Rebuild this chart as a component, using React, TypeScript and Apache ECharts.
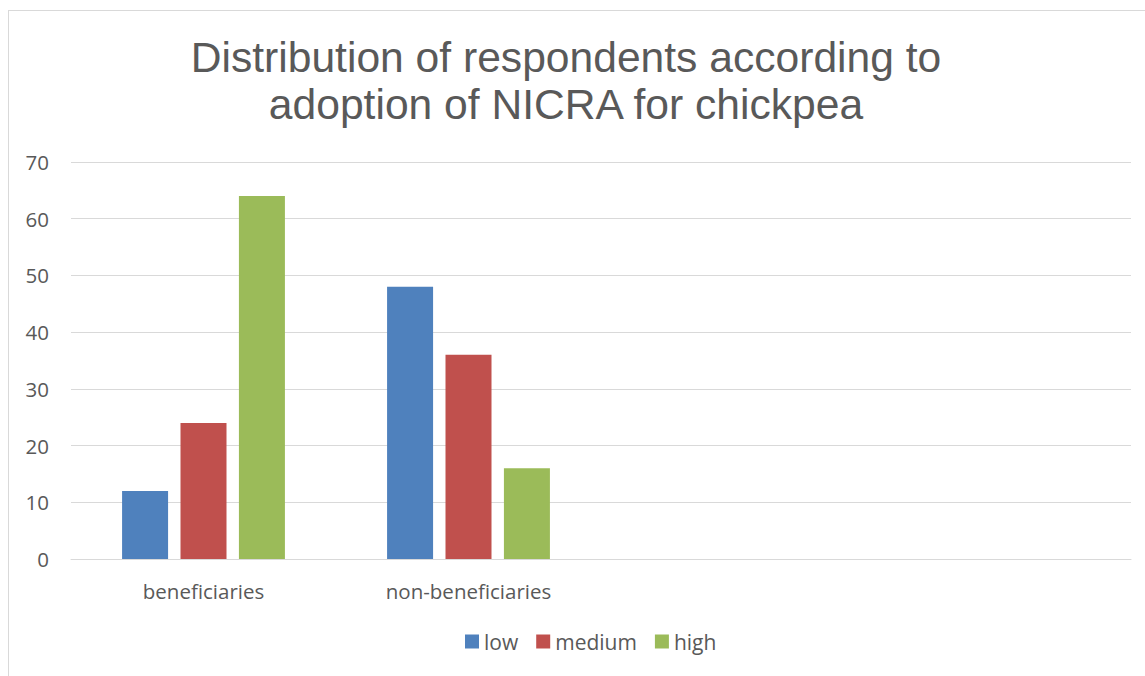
import React, { useEffect, useRef } from "react";
import * as echarts from "echarts";

const categories = ["beneficiaries", "non-beneficiaries", "", ""];
const lowValues = [12, 48, null, null];
const mediumValues = [24, 36, null, null];
const highValues = [64, 16, null, null];
const titleLines = ["Distribution of respondents according to", "adoption of NICRA for chickpea"];

export default function App() {
  const ref = useRef<HTMLDivElement>(null);
  useEffect(() => {
    document.body.style.margin = "0";
    const chart = echarts.init(ref.current!, null, { renderer: "svg" });
    const labelFont = "'Open Sans', Lato, sans-serif";
    const mk = (name: string, data: any[], color: string) => ({
      name,
      type: "bar",
      data,
      barWidth: 46,
      barGap: "27%",
      itemStyle: { color },
    });
    chart.setOption({
      animation: false,
      backgroundColor: "#ffffff",
      title: {
        text: titleLines.join("\n"),
        left: 561,
        textAlign: "center",
        top: 28,
        textStyle: {
          fontFamily: "'Liberation Sans', Arial, sans-serif",
          fontSize: 42.6,
          fontWeight: "normal",
          color: "#595959",
          lineHeight: 47,
        },
      },
      graphic: [
        { type: "line", shape: { x1: 8.5, y1: 10, x2: 8.5, y2: 676 }, style: { stroke: "#D9D9D9", lineWidth: 1 } },
        { type: "line", shape: { x1: 8, y1: 10.5, x2: 1145, y2: 10.5 }, style: { stroke: "#D9D9D9", lineWidth: 1 } },
      ],
      legend: {
        bottom: 19,
        left: 460,
        itemWidth: 14,
        itemHeight: 14,
        itemGap: 18,
        icon: "rect",
        textStyle: { fontFamily: labelFont, fontSize: 21, color: "#595959", padding: [0, 0, 0, 0] },
        data: ["low", "medium", "high"],
      },
      grid: { left: 71, right: 14, top: 162, bottom: 117 },
      xAxis: {
        type: "category",
        data: categories,
        axisLine: { show: true, lineStyle: { color: "#D9D9D9", width: 1 } },
        axisTick: { show: false },
        axisLabel: { fontFamily: labelFont, fontSize: 20.5, color: "#595959", margin: 21 },
      },
      yAxis: {
        type: "value",
        min: 0,
        max: 70,
        interval: 10,
        axisLine: { show: false },
        axisTick: { show: false },
        splitLine: { lineStyle: { color: "#D9D9D9", width: 1 } },
        axisLabel: { fontFamily: labelFont, fontSize: 20.5, color: "#595959", margin: 22 },
      },
      series: [
        mk("low", lowValues, "#4F81BD"),
        mk("medium", mediumValues, "#C0504D"),
        mk("high", highValues, "#9BBB59"),
      ],
    });
    return () => chart.dispose();
  }, []);
  return <div ref={ref} style={{ position: "absolute", left: 0, top: 0, width: 1145, height: 676 }} />;
}
